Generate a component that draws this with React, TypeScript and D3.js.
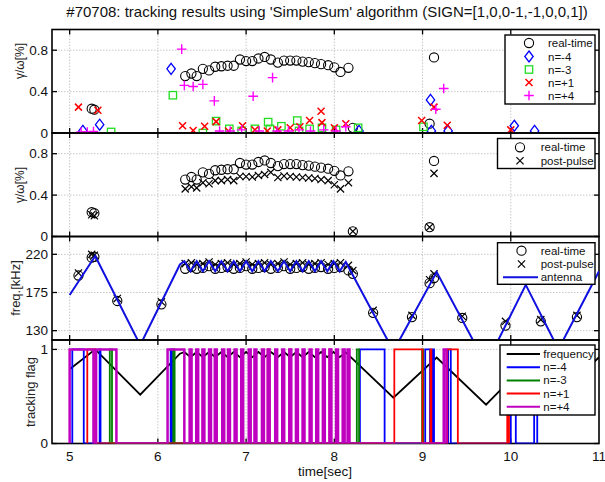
import React from "react";
import * as d3 from "d3";

const TITLE = "#70708: tracking results using 'SimpleSum' algorithm (SIGN=[1,0,0-1,-1,0,0,1])";
const X_LABEL = "time[sec]";
const X_TICKS = [5, 6, 7, 8, 9, 10, 11];
const GAMMA_TICKS = [0, 0.4, 0.8];
const FREQ_TICKS = [130, 175, 220];
const FLAG_TICKS = [0, 1];

// growth rate gamma/omega [%]: real-time estimate and post-pulse analysis
const rtTime = [5.25, 5.28, 6.31, 6.38, 6.44, 6.51, 6.58, 6.65, 6.72, 6.79, 6.86, 6.93, 7.0, 7.07, 7.14, 7.21, 7.28, 7.36, 7.43, 7.5, 7.57, 7.64, 7.71, 7.78, 7.85, 7.93, 8.0, 8.07, 8.16, 8.21, 9.08, 9.13];
const rtGamma = [0.235, 0.225, 0.55, 0.575, 0.55, 0.62, 0.605, 0.64, 0.645, 0.65, 0.65, 0.71, 0.695, 0.695, 0.72, 0.735, 0.71, 0.68, 0.7, 0.7, 0.7, 0.69, 0.685, 0.675, 0.665, 0.655, 0.635, 0.59, 0.63, 0.05, 0.09, 0.73];
const ppGamma = [0.21, 0.2, 0.46, 0.48, 0.47, 0.52, 0.51, 0.54, 0.54, 0.55, 0.54, 0.58, 0.58, 0.575, 0.59, 0.6, 0.62, 0.57, 0.585, 0.58, 0.575, 0.57, 0.565, 0.56, 0.55, 0.54, 0.5, 0.46, 0.52, 0.05, 0.09, 0.61];

// per-mode growth rates
const nm4Time = [5.15, 5.34, 6.15, 8.28, 9.09, 9.1, 9.29, 10.04, 10.27];
const nm4Gamma = [0.02, 0.08, 0.62, 0.02, 0.32, 0.02, 0.02, 0.07, 0.02];
const nm3Time = [5.47, 6.17, 6.51, 6.66, 6.81, 6.95, 7.1, 7.25, 7.27, 7.4, 7.58, 7.6, 7.72, 7.86, 8.02, 8.27, 9.01];
const nm3Gamma = [0.01, 0.365, 0.0, 0.115, 0.04, 0.02, 0.04, 0.105, 0.04, 0.065, 0.12, 0.02, 0.04, 0.05, 0.03, 0.05, 0.06];
const np1Time = [5.1, 5.32, 6.28, 6.4, 6.53, 6.66, 6.8, 6.96, 7.1, 7.24, 7.36, 7.5, 7.61, 7.72, 7.85, 7.86, 8.0, 8.13, 8.99, 9.13, 9.28, 10.0];
const np1Gamma = [0.25, 0.22, 0.07, 0.025, 0.065, 0.11, 0.02, 0.07, 0.03, 0.02, 0.03, 0.05, 0.06, 0.12, 0.21, 0.1, 0.05, 0.09, 0.12, 0.25, 0.075, 0.03];
const np4Time = [5.13, 5.2, 5.27, 6.27, 6.3, 6.4, 6.51, 6.64, 6.7, 6.82, 6.95, 7.08, 7.15, 7.3, 7.35, 7.48, 7.6, 7.73, 7.88, 8.02, 8.13, 9.15, 9.24];
const np4Gamma = [0.01, 0.01, 0.015, 0.81, 0.46, 0.45, 0.47, 0.31, 0.02, 0.02, 0.03, 0.355, 0.02, 0.535, 0.02, 0.02, 0.03, 0.02, 0.03, 0.02, 0.06, 0.23, 0.43];

// tracked frequency [kHz]
const fTime = [5.1, 5.25, 5.28, 5.54, 6.04, 6.31, 6.38, 6.44, 6.51, 6.58, 6.65, 6.72, 6.79, 6.86, 6.93, 7.0, 7.07, 7.14, 7.21, 7.28, 7.36, 7.43, 7.5, 7.57, 7.64, 7.71, 7.78, 7.85, 7.93, 8.0, 8.07, 8.16, 8.21, 8.44, 8.88, 9.08, 9.13, 9.45, 9.94, 10.34, 10.75];
const fReal = [195, 216, 217, 165, 161, 203, 205, 203, 204, 206, 203, 204, 205, 203, 204, 206, 203, 204, 205, 203, 204, 206, 203, 204, 205, 203, 204, 205, 203, 204, 205, 201, 197, 151, 146, 186, 192, 145, 136, 141, 146];
const fPost = [198, 220, 219, 168, 164, 209, 210, 208, 209, 211, 208, 209, 210, 208, 209, 211, 208, 209, 210, 208, 209, 211, 208, 209, 210, 208, 209, 210, 208, 209, 210, 207, 201, 154, 148, 190, 197, 147, 141, 143, 148];

// antenna drive frequency [kHz]
const antTime = [5.0, 5.29, 5.8, 6.25, 6.3, 6.37, 6.44, 6.51, 6.58, 6.65, 6.72, 6.79, 6.86, 6.93, 7.0, 7.07, 7.14, 7.21, 7.28, 7.36, 7.43, 7.5, 7.57, 7.64, 7.71, 7.78, 7.85, 7.92, 7.99, 8.06, 8.13, 8.67, 9.16, 9.72, 10.17, 10.54, 11.0];
const antFreq = [172, 218, 113, 208, 212, 200, 212, 200, 212, 200, 212, 200, 212, 200, 212, 200, 212, 200, 212, 200, 212, 200, 212, 200, 212, 200, 212, 200, 212, 200, 211, 106, 199, 90, 184, 108, 200];

// tracking flag intervals (flag = 1 between start and end)
const flagNm4 = [[5.03, 5.16], [5.34, 5.35], [6.145, 6.16], [8.29, 8.57], [9.03, 9.085], [9.11, 9.13], [9.29, 9.32], [10.0, 10.057], [10.265, 10.3]];
const flagNm3 = [[5.455, 5.48], [6.175, 6.19], [8.255, 8.28], [8.995, 9.008]];
const flagNp1 = [[5.2, 5.29], [7.245, 7.265], [7.49, 7.505], [7.945, 7.96], [8.68, 9.0], [9.09, 9.1], [9.28, 9.4], [9.96, 9.98]];
const flagNp4 = [[5.0, 5.27], [5.3, 5.53], [6.11, 6.3], [6.36, 6.382], [6.435, 6.457], [6.505, 6.527], [6.58, 6.602], [6.645, 6.667], [6.73, 6.752], [6.795, 6.817], [6.87, 6.892], [6.945, 6.967], [7.03, 7.052], [7.095, 7.117], [7.18, 7.202], [7.245, 7.267], [7.33, 7.352], [7.41, 7.432], [7.49, 7.512], [7.565, 7.587], [7.64, 7.662], [7.72, 7.742], [7.795, 7.817], [7.87, 7.892], [7.945, 7.967], [8.02, 8.042], [8.095, 8.117], [8.15, 8.172], [9.24, 9.27]];

const W = 605;
const H = 482;
const LEFT = 52;
const RIGHT = 599;
const PANEL_TOP = [29.5, 133, 236.5, 340];
const PANEL_H = 103.5;
const FONT = "Arial, 'Liberation Sans', Helvetica, sans-serif";

const BLUE = "#0000ff";
const GREEN_M = "#22dd22";
const RED = "#ff0000";
const MAGENTA = "#ff00ff";
const FLAG_GREEN = "#008000";
const FLAG_MAGENTA = "#c000c0";

type Scale = d3.ScaleLinear<number, number>;

function zip(t: number[], v: number[]): [number, number][] {
  return t.map((d, i) => [d, v[i]]);
}

function Circle({ cx, cy }: { cx: number; cy: number }) {
  return <circle cx={cx} cy={cy} r={4.6} fill="none" stroke="#000" strokeWidth={1.1} />;
}
function Diamond({ cx, cy }: { cx: number; cy: number }) {
  return <path d={`M${cx},${cy - 5.5}L${cx + 4.2},${cy}L${cx},${cy + 5.5}L${cx - 4.2},${cy}Z`} fill="none" stroke={BLUE} strokeWidth={1.3} />;
}
function Square({ cx, cy }: { cx: number; cy: number }) {
  return <rect x={cx - 3.7} y={cy - 3.7} width={7.4} height={7.4} fill="none" stroke={GREEN_M} strokeWidth={1.3} />;
}
function Cross({ cx, cy, color, s = 3.5, w = 1.5 }: { cx: number; cy: number; color: string; s?: number; w?: number }) {
  return <path d={`M${cx - s},${cy - s}L${cx + s},${cy + s}M${cx - s},${cy + s}L${cx + s},${cy - s}`} stroke={color} strokeWidth={w} fill="none" />;
}
function Plus({ cx, cy }: { cx: number; cy: number }) {
  return <path d={`M${cx - 4.8},${cy}H${cx + 4.8}M${cx},${cy - 4.8}V${cy + 4.8}`} stroke={MAGENTA} strokeWidth={1.4} fill="none" />;
}

function Frame({ x, y, top, ticks, labels, fmt }: { x: Scale; y: Scale; top: number; ticks: number[]; labels: boolean; fmt: (v: number) => string }) {
  const bottom = top + PANEL_H;
  const tl = 5;
  return (
    <g>
      {X_TICKS.filter((t) => t < 11).map((t) => (
        <line key={"gx" + t} x1={x(t)} x2={x(t)} y1={top} y2={bottom} stroke="#c8c8c8" strokeWidth={1} strokeDasharray="1.5,1.5" />
      ))}
      {ticks.map((t) => (
        <line key={"gy" + t} x1={LEFT} x2={RIGHT} y1={y(t)} y2={y(t)} stroke="#c8c8c8" strokeWidth={1} strokeDasharray="1.5,1.5" />
      ))}
      {X_TICKS.filter((t) => t < 11).map((t) => (
        <g key={"tx" + t}>
          <line x1={x(t)} x2={x(t)} y1={top} y2={top + tl} stroke="#000" strokeWidth={1.3} />
          <line x1={x(t)} x2={x(t)} y1={bottom} y2={bottom - tl} stroke="#000" strokeWidth={1.3} />
        </g>
      ))}
      {ticks.map((t) => (
        <g key={"ty" + t}>
          <line x1={LEFT} x2={LEFT + tl} y1={y(t)} y2={y(t)} stroke="#000" strokeWidth={1.3} />
          <line x1={RIGHT} x2={RIGHT - tl} y1={y(t)} y2={y(t)} stroke="#000" strokeWidth={1.3} />
          <text x={48} y={y(t)} dy="0.35em" textAnchor="end" fontSize={13.5} fontFamily={FONT} fill="#111">
            {fmt(t)}
          </text>
        </g>
      ))}
      <rect x={LEFT} y={top} width={RIGHT - LEFT} height={PANEL_H} fill="none" stroke="#000" strokeWidth={1.6} />
      {labels &&
        X_TICKS.map((t) => (
          <text key={"lx" + t} x={x(t)} y={bottom + 17} textAnchor="middle" fontSize={13.5} fontFamily={FONT} fill="#111">
            {t}
          </text>
        ))}
    </g>
  );
}

function YLabel({ x, y, text, size }: { x: number; y: number; text: string; size: number }) {
  return (
    <text transform={`translate(${x},${y}) rotate(-90)`} textAnchor="middle" dy="0.35em" fontSize={size} fontFamily={FONT} fill="#222">
      {text}
    </text>
  );
}

function flagPoints(intervals: number[][]): [number, number][] {
  const pts: [number, number][] = [];
  intervals.forEach(([s, e]) => {
    pts.push([s, 0], [s, 1], [e, 1], [e, 0]);
  });
  return pts;
}

export default function App() {
  const x = d3.scaleLinear().domain([4.8, 11]).range([LEFT, RIGHT]);
  const yG1 = d3.scaleLinear().domain([0, 1]).range([PANEL_TOP[0] + PANEL_H, PANEL_TOP[0]]);
  const yG2 = d3.scaleLinear().domain([0, 1]).range([PANEL_TOP[1] + PANEL_H, PANEL_TOP[1]]);
  const yF = d3.scaleLinear().domain([119, 241]).range([PANEL_TOP[2] + PANEL_H, PANEL_TOP[2]]);
  const yT = d3.scaleLinear().domain([0, 1.1]).range([PANEL_TOP[3] + PANEL_H, PANEL_TOP[3]]);

  const rt = zip(rtTime, rtGamma);
  const pp = zip(rtTime, ppGamma);
  const nm4 = zip(nm4Time, nm4Gamma);
  const nm3 = zip(nm3Time, nm3Gamma);
  const np1 = zip(np1Time, np1Gamma);
  const np4 = zip(np4Time, np4Gamma);
  const fr = zip(fTime, fReal);
  const fp = zip(fTime, fPost);
  const ant = zip(antTime, antFreq);

  const antLine = d3.line<[number, number]>().x((d) => x(d[0])).y((d) => yF(d[1]));
  const antMax = d3.max(antFreq) as number;
  const normLine = d3.line<[number, number]>().x((d) => x(d[0])).y((d) => yT(d[1] / antMax));
  const flagLine = d3.line<[number, number]>().x((d) => x(d[0])).y((d) => yT(d[1]));

  const fmtG = (v: number) => (v === 0 ? "0" : d3.format(".1f")(v));
  const fmtI = (v: number) => String(v);

  return (
    <svg width={W} height={H} style={{ position: "absolute", left: 0, top: 0, background: "#fff" }}>
      <defs>
        {PANEL_TOP.map((t, i) => (
          <clipPath id={"clip" + i} key={i}>
            <rect x={LEFT} y={t} width={RIGHT - LEFT} height={PANEL_H} />
          </clipPath>
        ))}
      </defs>
      <rect x={0} y={0} width={W} height={H} fill="#fff" />
      <text x={327} y={17} textAnchor="middle" fontSize={15} fontFamily={FONT} fill="#111">
        {TITLE}
      </text>

      {/* panel 1: growth rate per mode */}
      <Frame x={x} y={yG1} top={PANEL_TOP[0]} ticks={GAMMA_TICKS} labels={false} fmt={fmtG} />
      <g clipPath="url(#clip0)">
        {rt.map((d, i) => <Circle key={i} cx={x(d[0])} cy={yG1(d[1])} />)}
        {nm4.map((d, i) => <Diamond key={i} cx={x(d[0])} cy={yG1(d[1])} />)}
        {nm3.map((d, i) => <Square key={i} cx={x(d[0])} cy={yG1(d[1])} />)}
        {np1.map((d, i) => <Cross key={i} cx={x(d[0])} cy={yG1(d[1])} color={RED} />)}
        {np4.map((d, i) => <Plus key={i} cx={x(d[0])} cy={yG1(d[1])} />)}
      </g>
      <YLabel x={20} y={61} text="γ/ω[%]" size={12} />

      {/* panel 2: real-time vs post-pulse growth rate */}
      <Frame x={x} y={yG2} top={PANEL_TOP[1]} ticks={GAMMA_TICKS} labels={false} fmt={fmtG} />
      <g clipPath="url(#clip1)">
        {rt.map((d, i) => <Circle key={i} cx={x(d[0])} cy={yG2(d[1])} />)}
        {pp.map((d, i) => <Cross key={i} cx={x(d[0])} cy={yG2(d[1])} color="#000" s={3.6} w={1.2} />)}
      </g>
      <YLabel x={20} y={185} text="γ/ω[%]" size={12} />

      {/* panel 3: frequency */}
      <Frame x={x} y={yF} top={PANEL_TOP[2]} ticks={FREQ_TICKS} labels={false} fmt={fmtI} />
      <g clipPath="url(#clip2)">
        {fr.map((d, i) => <Circle key={i} cx={x(d[0])} cy={yF(d[1])} />)}
        {fp.map((d, i) => <Cross key={i} cx={x(d[0])} cy={yF(d[1])} color="#000" s={3.6} w={1.2} />)}
        <path d={antLine(ant) as string} fill="none" stroke="#1010e0" strokeWidth={2} />
      </g>
      <YLabel x={15} y={288} text="freq.[kHz]" size={13} />

      {/* panel 4: tracking flags */}
      <Frame x={x} y={yT} top={PANEL_TOP[3]} ticks={FLAG_TICKS} labels={true} fmt={fmtI} />
      <g clipPath="url(#clip3)">
        <path d={normLine(ant) as string} fill="none" stroke="#000" strokeWidth={1.8} />
        <path d={flagLine(flagPoints(flagNm4)) as string} fill="none" stroke={BLUE} strokeWidth={1.8} />
        <path d={flagLine(flagPoints(flagNm3)) as string} fill="none" stroke={FLAG_GREEN} strokeWidth={1.8} />
        <path d={flagLine(flagPoints(flagNp1)) as string} fill="none" stroke={RED} strokeWidth={1.8} />
        <path d={flagLine(flagPoints(flagNp4)) as string} fill="none" stroke={FLAG_MAGENTA} strokeWidth={2.5} />
      </g>
      <YLabel x={30} y={392} text="tracking flag" size={13} />
      <text x={325} y={476} textAnchor="middle" fontSize={13.5} fontFamily={FONT} fill="#111">
        {X_LABEL}
      </text>

      {/* legends */}
      <g fontFamily={FONT} fontSize={11.5} fill="#111">
        <rect x={505} y={35} width={90} height={69} fill="#fff" stroke="#000" strokeWidth={1.4} />
        <Circle cx={529} cy={43} />
        <text x={548} y={43} dy="0.35em">real-time</text>
        <Diamond cx={529} cy={56.5} />
        <text x={548} y={56.5} dy="0.35em">n=-4</text>
        <Square cx={529} cy={69.5} />
        <text x={548} y={69.5} dy="0.35em">n=-3</text>
        <Cross cx={529} cy={82.5} color={RED} />
        <text x={548} y={82.5} dy="0.35em">n=+1</text>
        <Plus cx={529} cy={95.5} />
        <text x={548} y={95.5} dy="0.35em">n=+4</text>

        <rect x={497.5} y={138.5} width={97.5} height={30} fill="#fff" stroke="#000" strokeWidth={1.4} />
        <Circle cx={520} cy={147.3} />
        <text x={540.7} y={147.3} dy="0.35em">real-time</text>
        <Cross cx={520} cy={160.7} color="#000" s={3.6} w={1.2} />
        <text x={540.7} y={160.7} dy="0.35em">post-pulse</text>

        <rect x={497.5} y={242.7} width={97.5} height={41.6} fill="#fff" stroke="#000" strokeWidth={1.4} />
        <Circle cx={521.5} cy={250.7} />
        <text x={540.7} y={250.7} dy="0.35em">real-time</text>
        <Cross cx={521.5} cy={264} color="#000" s={3.6} w={1.2} />
        <text x={540.7} y={264} dy="0.35em">post-pulse</text>
        <line x1={503} x2={538} y1={277.3} y2={277.3} stroke="#1010e0" strokeWidth={2} />
        <text x={540.7} y={277.3} dy="0.35em">antenna</text>

        <rect x={500} y={345} width={95} height={70} fill="#fff" stroke="#000" strokeWidth={1.4} />
        {[
          ["frequency", "#000"],
          ["n=-4", BLUE],
          ["n=-3", FLAG_GREEN],
          ["n=+1", RED],
          ["n=+4", FLAG_MAGENTA],
        ].map(([label, color], i) => (
          <g key={label}>
            <line x1={506.7} x2={540} y1={354 + i * 13.2} y2={354 + i * 13.2} stroke={color} strokeWidth={2} />
            <text x={543.3} y={354 + i * 13.2} dy="0.35em">{label}</text>
          </g>
        ))}
      </g>
    </svg>
  );
}
